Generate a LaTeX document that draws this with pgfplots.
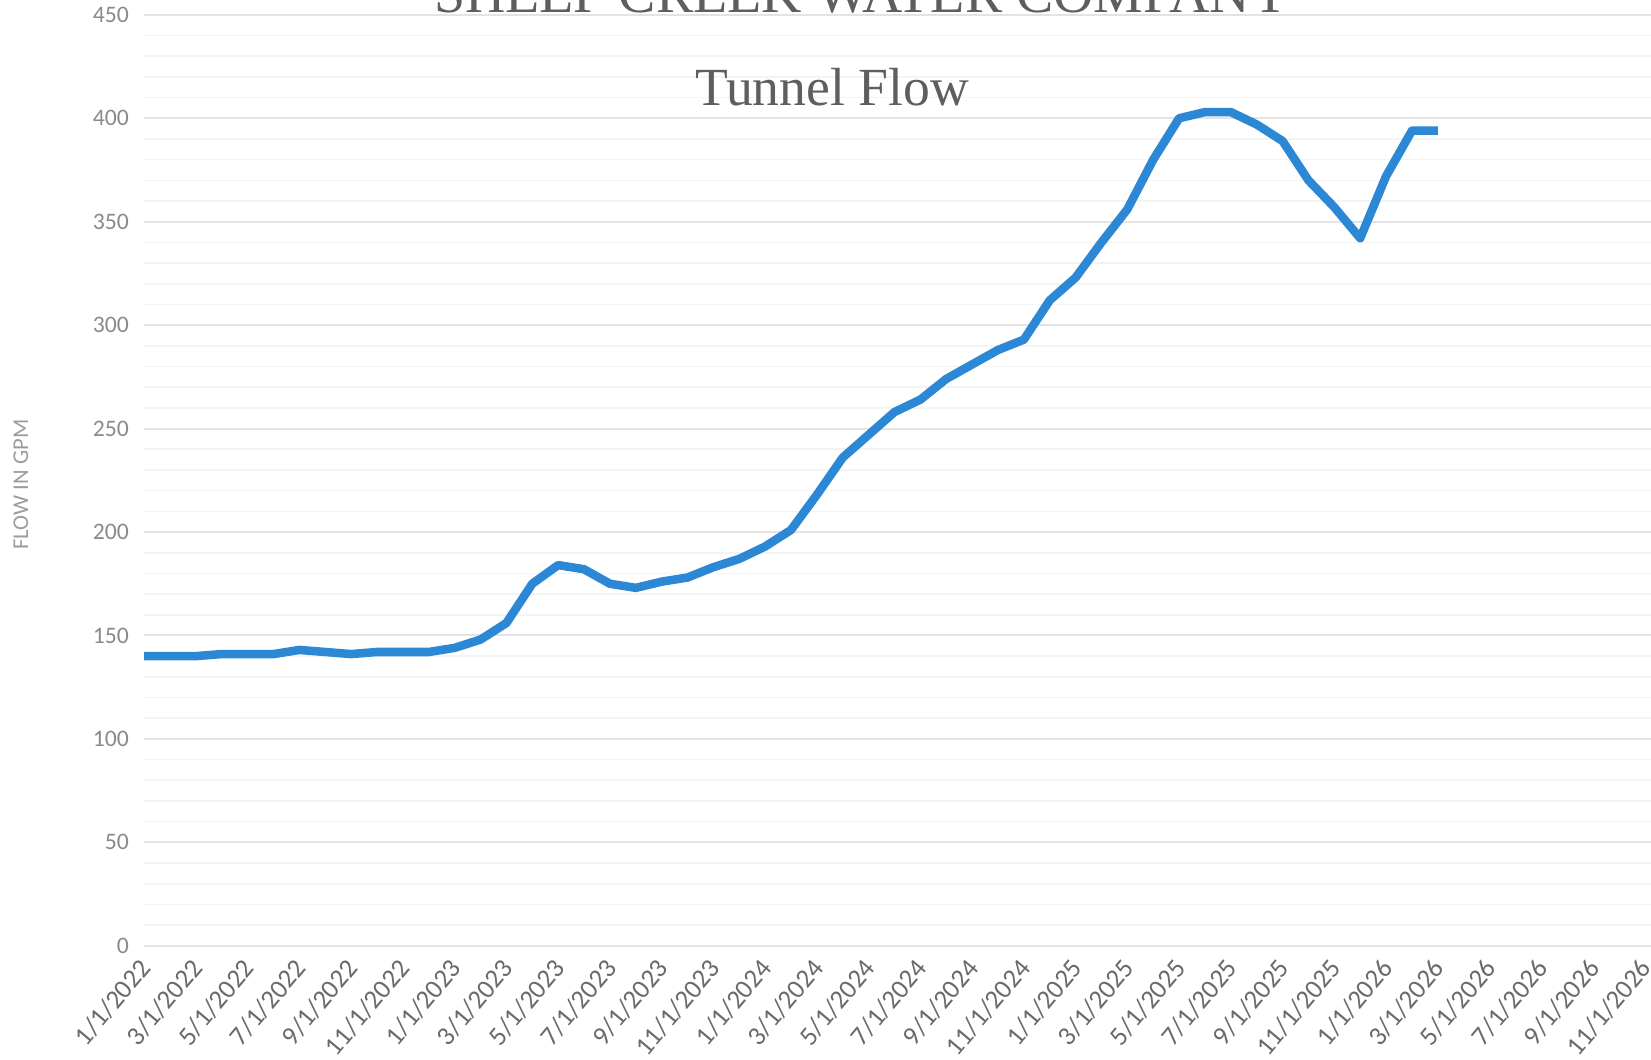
\documentclass[border=0pt]{standalone}
\usepackage{fontspec}
\setmainfont{Carlito}
\newfontfamily\titlefont{Liberation Serif}
\usepackage{pgfplots}
\pgfplotsset{compat=1.18}

\definecolor{flowblue}{HTML}{2C88D4}
\definecolor{ticktext}{HTML}{8A8A8A}
\definecolor{datetext}{HTML}{6A6A6A}
\definecolor{titlegray}{HTML}{5E5E5E}

\begin{document}
\begin{tikzpicture}
\begin{axis}[
  at={(0,0)}, anchor=south west,
  scale only axis,
  width=547.6pt, height=338.3pt,
  xmin=0, xmax=58.24,
  ymin=0, ymax=450,
  xtick={0,2,...,58},
  xticklabels={1/1/2022,3/1/2022,5/1/2022,7/1/2022,9/1/2022,11/1/2022,
    1/1/2023,3/1/2023,5/1/2023,7/1/2023,9/1/2023,11/1/2023,
    1/1/2024,3/1/2024,5/1/2024,7/1/2024,9/1/2024,11/1/2024,
    1/1/2025,3/1/2025,5/1/2025,7/1/2025,9/1/2025,11/1/2025,
    1/1/2026,3/1/2026,5/1/2026,7/1/2026,9/1/2026,11/1/2026},
  ytick={0,50,...,450},
  minor y tick num=4,
  ymajorgrids, yminorgrids,
  major grid style={gray!22, line width=0.7pt},
  minor grid style={gray!9, line width=0.6pt},
  axis line style={draw=none},
  major tick style={draw=none},
  minor tick style={draw=none},
  /pgf/number format/assume math mode=true,
  xticklabel style={font=\fontsize{9.7}{11}\selectfont, text=datetext,
    rotate=50, anchor=east, inner sep=0.5pt, xshift=-4pt, yshift=-4.5pt},
  yticklabel style={font=\fontsize{8.6}{10}\selectfont, text=ticktext, xshift=-2pt},
  clip=false,
]
\addplot[color=flowblue, line width=3.1pt, line join=round, line cap=butt]
coordinates {
  (0,140)(1,140)(2,140)(3,141)(4,141)(5,141)(6,143)(7,142)(8,141)(9,142)
  (10,142)(11,142)(12,144)(13,148)(14,156)(15,175)(16,184)(17,182)(18,175)(19,173)
  (20,176)(21,178)(22,183)(23,187)(24,193)(25,201)(26,218)(27,236)(28,247)(29,258)
  (30,264)(31,274)(32,281)(33,288)(34,293)(35,312)(36,323)(37,340)(38,356)(39,380)
  (40,400)(41,403)(42,403)(43,397)(44,389)(45,370)(46,357)(47,342)(48,372)(49,394)
  (50,394)
};
\end{axis}
\node[rotate=90, text=ticktext!85, font=\fontsize{8.2}{10}\selectfont]
  at (-44.8pt,167.6pt) {FLOW IN GPM};
\node[anchor=base, text=titlegray, font=\titlefont\fontsize{19.5}{22}\selectfont]
  at (250pt,305.4pt) {Tunnel Flow};
\node[anchor=base, text=titlegray, font=\titlefont\fontsize{20.3}{22}\selectfont]
  at (261pt,339.1pt) {SHEEP CREEK WATER COMPANY};
\pgfresetboundingbox
\useasboundingbox (-52.4pt,-41.3pt) rectangle (547.6pt,343.7pt);
\end{tikzpicture}
\end{document}
